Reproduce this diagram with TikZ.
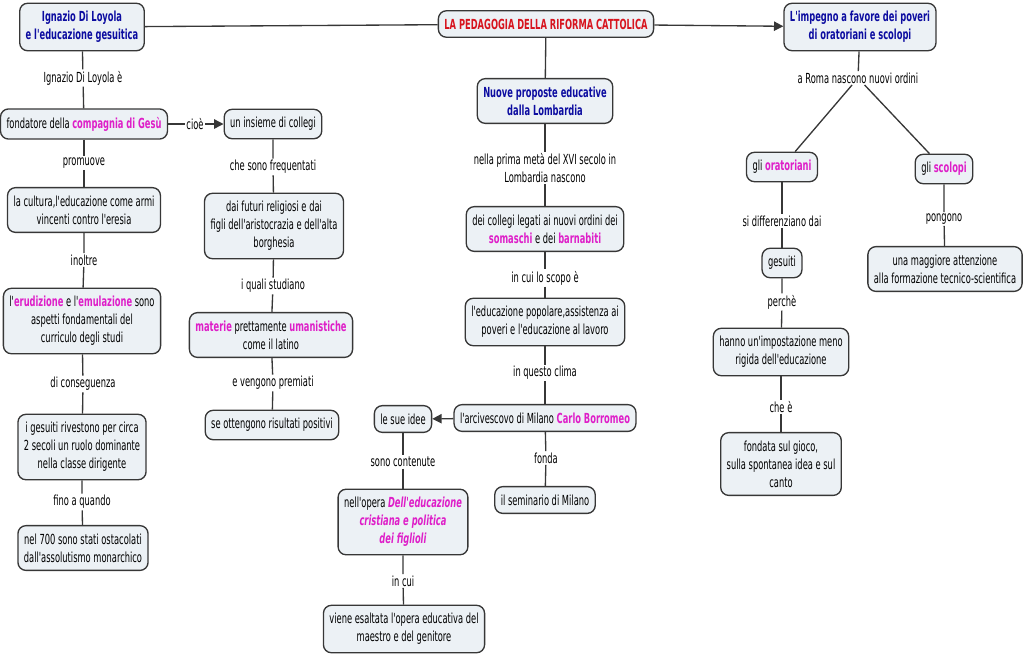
\documentclass[tikz,border=0pt]{standalone}
\usepackage{fontspec}
\setmainfont{DejaVu Sans}[FakeStretch=0.6, Ligatures=TeXOff]
\usetikzlibrary{arrows.meta, positioning}
\definecolor{boxfill}{RGB}{236,241,245}
\definecolor{boxline}{RGB}{55,55,55}
\definecolor{keyword}{RGB}{222,30,200}
\definecolor{titleblue}{RGB}{12,12,160}
\definecolor{titlered}{RGB}{215,20,30}
\newcommand{\kw}[1]{\textcolor{keyword}{\textbf{#1}}}
\newcommand{\kwi}[1]{\textcolor{keyword}{\textbf{\itshape #1}}}

\begin{document}
\begin{tikzpicture}[x=0.75pt, y=-0.75pt,
    concept/.style={draw=boxline, fill=boxfill, rounded corners=6pt, line width=1pt,
      align=center, inner xsep=4.5pt, inner ysep=6pt, font=\fontsize{10.4}{13.5}\selectfont},
    linklabel/.style={align=center, inner sep=1pt, font=\fontsize{10.4}{13.5}\selectfont},
    conn/.style={draw=boxline, line width=1pt},
    tip/.style={-{Triangle[length=7pt, width=7pt]}}]
    \useasboundingbox (0,0) rectangle (1024,658);

    % Main titles
    \node[concept] (root) at (546,24) {\textcolor{titlered}{\textbf{LA PEDAGOGIA DELLA RIFORMA CATTOLICA}}};
    \node[concept] (loyola) at (82,27) {\textcolor{titleblue}{\textbf{Ignazio Di Loyola}}\\\textcolor{titleblue}{\textbf{e l'educazione gesuitica}}};
    \node[concept] (lombardia) at (545,101) {\textcolor{titleblue}{\textbf{Nuove proposte educative}}\\\textcolor{titleblue}{\textbf{dalla Lombardia}}};
    \node[concept] (poveri) at (860,27) {\textcolor{titleblue}{\textbf{L'impegno a favore dei poveri}}\\\textcolor{titleblue}{\textbf{di oratoriani e scolopi}}};

    % Gesuiti
    \node[concept] (fondatore) at (84,124) {fondatore della \kw{compagnia di Gesù}};
    \node[concept] (collegi) at (273,124) {un insieme di collegi};
    \node[concept] (cultura) at (84,210) {la cultura,l'educazione come armi\\vincenti contro l'eresia};
    \node[concept] (erudizione) at (82,321) {l'\kw{erudizione} e l'\kw{emulazione} sono\\aspetti fondamentali del\\curriculo degli studi};
    \node[concept] (secoli) at (82,447) {i gesuiti rivestono per circa\\2 secoli un ruolo dominante\\nella classe dirigente};
    \node[concept] (settecento) at (83,548) {nel 700 sono stati ostacolati\\dall'assolutismo monarchico};
    \node[concept] (religiosi) at (274,226) {dai futuri religiosi e dai\\figli dell'aristocrazia e dell'alta\\borghesia};
    \node[concept] (materie) at (271,335) {\kw{materie} prettamente \kw{umanistiche}\\come il latino};
    \node[concept] (risultati) at (272,425) {se ottengono risultati positivi};

    % Lombardia
    \node[concept] (somaschi) at (545,229) {dei collegi legati ai nuovi ordini dei\\\kw{somaschi} e dei \kw{barnabiti}};
    \node[concept] (popolare) at (545,322) {l'educazione popolare,assistenza ai\\poveri e l'educazione al lavoro};
    \node[concept] (borromeo) at (545,418) {l'arcivescovo di Milano \kw{Carlo Borromeo}};
    \node[concept] (seminario) at (545,500) {il seminario di Milano};
    \node[concept] (idee) at (403,419) {le sue idee};
    \node[concept] (opera) at (403,522) {nell'opera \kwi{Dell'educazione}\\\kwi{cristiana e politica}\\\kwi{dei figlioli}};
    \node[concept] (maestro) at (404,629) {viene esaltata l'opera educativa del\\maestro e del genitore};

    % Oratoriani e scolopi
    \node[concept] (oratoriani) at (782,167) {gli \kw{oratoriani}};
    \node[concept] (scolopi) at (944,169) {gli \kw{scolopi}};
    \node[concept] (gesuiti) at (782,263) {gesuiti};
    \node[concept] (rigida) at (781,352) {hanno un'impostazione meno\\rigida dell'educazione};
    \node[concept] (gioco) at (781,464) {fondata sul gioco,\\sulla spontanea idea e sul\\canto};
    \node[concept] (tecnico) at (945,269) {una maggiore attenzione\\alla formazione tecnico-scientifica};

    % Link labels
    \node[linklabel] (lbe) at (83,78) {Ignazio Di Loyola è};
    \node[linklabel] (lcioe) at (195,124) {cioè};
    \node[linklabel] (lpromuove) at (84,163) {promuove};
    \node[linklabel] (linoltre) at (84,260) {inoltre};
    \node[linklabel] (lconseg) at (83,384) {di conseguenza};
    \node[linklabel] (lfino) at (82,502) {fino a quando};
    \node[linklabel] (lfreq) at (273,167) {che sono frequentati};
    \node[linklabel] (lstudiano) at (273,286) {i quali studiano};
    \node[linklabel] (lpremiati) at (273,383) {e vengono premiati};
    \node[linklabel] (lmeta) at (545,168) {nella prima metà del XVI secolo in\\Lombardia nascono};
    \node[linklabel] (lscopo) at (545,278) {in cui lo scopo è};
    \node[linklabel] (lclima) at (545,373) {in questo clima};
    \node[linklabel] (lfonda) at (546,458) {fonda};
    \node[linklabel] (lcontenute) at (403,462) {sono contenute};
    \node[linklabel] (lincui) at (403,581) {in cui};
    \node[linklabel] (lroma) at (858,78) {a Roma nascono nuovi ordini};
    \node[linklabel] (ldiff) at (782,221) {si differenziano dai};
    \node[linklabel] (lperche) at (782,302) {perchè};
    \node[linklabel] (lche) at (781,407) {che è};
    \node[linklabel] (lpongono) at (944,219) {pongono};

    % Connectors
    \draw[conn] (root) -- (loyola);
    \draw[conn, tip] (root) -- (poveri);
    \draw[conn] (root) -- (lombardia);
    \draw[conn] (loyola) -- (lbe) -- (fondatore);
    \draw[conn, tip] (fondatore) -- (lcioe) -- (collegi);
    \draw[conn] (fondatore) -- (lpromuove) -- (cultura);
    \draw[conn] (cultura) -- (linoltre) -- (erudizione);
    \draw[conn] (erudizione) -- (lconseg) -- (secoli);
    \draw[conn] (secoli) -- (lfino) -- (settecento);
    \draw[conn] (collegi) -- (lfreq) -- (religiosi);
    \draw[conn] (religiosi) -- (lstudiano) -- (materie);
    \draw[conn] (materie) -- (lpremiati) -- (risultati);
    \draw[conn] (lombardia) -- (lmeta) -- (somaschi);
    \draw[conn] (somaschi) -- (lscopo) -- (popolare);
    \draw[conn] (popolare) -- (lclima) -- (borromeo);
    \draw[conn, tip] (borromeo) -- (idee);
    \draw[conn] (borromeo) -- (lfonda) -- (seminario);
    \draw[conn] (idee) -- (lcontenute) -- (opera);
    \draw[conn] (opera) -- (lincui) -- (maestro);
    \draw[conn] (poveri) -- (lroma);
    \draw[conn] (lroma) -- (oratoriani);
    \draw[conn] (lroma) -- (scolopi);
    \draw[conn] (oratoriani) -- (ldiff) -- (gesuiti);
    \draw[conn] (gesuiti) -- (lperche) -- (rigida);
    \draw[conn] (rigida) -- (lche) -- (gioco);
    \draw[conn] (scolopi) -- (lpongono) -- (tecnico);
\end{tikzpicture}
\end{document}
